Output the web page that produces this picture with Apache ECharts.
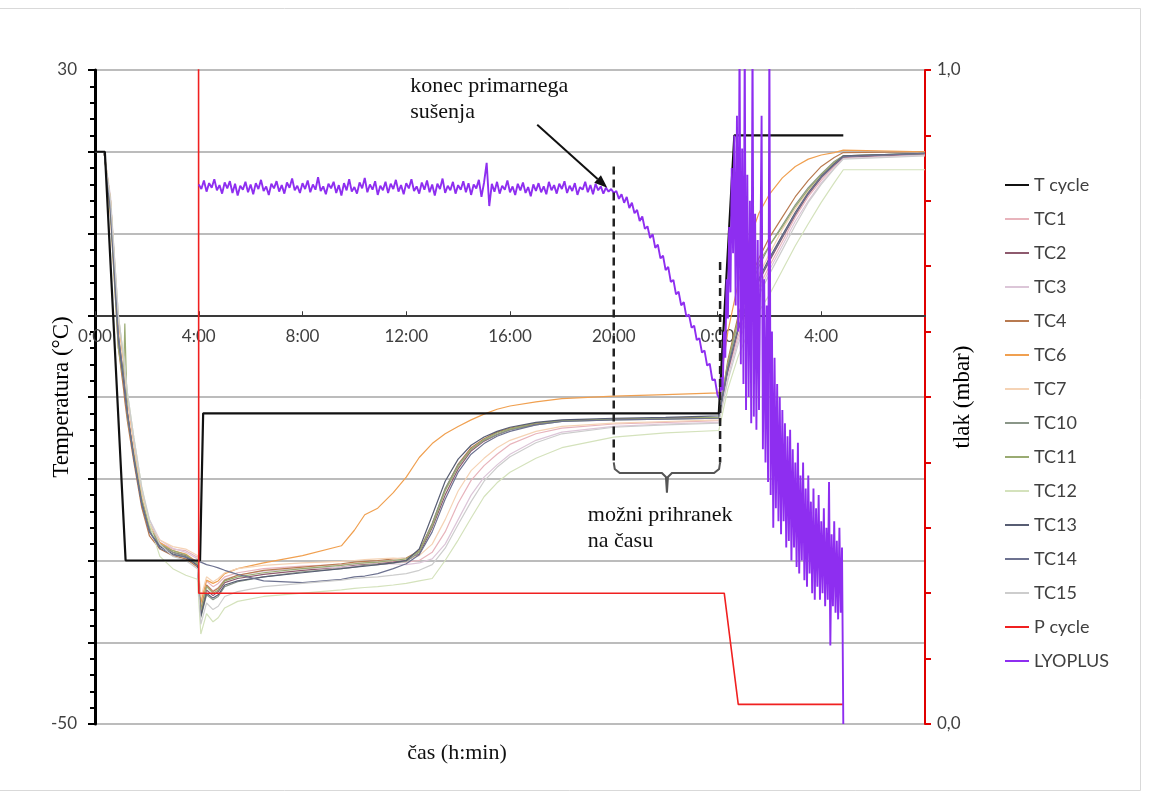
<!DOCTYPE html>
<html>
<head>
<meta charset="utf-8">
<script src="https://cdn.jsdelivr.net/npm/echarts@6/dist/echarts.min.js"></script>
<style>
  html, body { margin: 0; padding: 0; background: #fff; }
  #chart { width: 1149px; height: 796px; }
</style>
</head>
<body>
<div id="chart"></div>
<script>
// time in hours from start of cycle
var tcTime = [0, 0.35, 0.6, 0.9, 1.1, 1.15, 1.25, 1.5, 1.8, 2.1, 2.5, 3.0, 3.5, 3.95,
  4.08, 4.3, 4.55, 4.75, 5.0, 5.5, 6.5, 8, 9.5, 10.0, 10.4, 10.9, 11.5, 12,
  12.5, 13, 13.5, 14, 14.5, 15, 15.5, 16, 17, 18, 20, 22, 24.05,
  24.4, 24.8, 25.2, 25.6, 26, 26.5, 27, 27.5, 28, 28.5, 28.85, 32];

var tc1 = [20, 20, 14, -1, -6, -7.5, -10.5, -16, -22, -25.5, -27.8, -28.6, -28.8, -29.6,
  -35, -32.5, -33.2, -32.8, -32, -31.5, -31, -30.7, -30.5, -30.4, -30.3, -30.2, -30.1, -30.2,
  -30, -29, -26.5, -23, -20.2, -18.4, -17, -15.8, -14.5, -13.8, -13.3, -13.1, -12.9,
  -7, -2.5, 1, 3.5, 6, 9, 12, 14.5, 16.5, 18.2, 19.3, 19.7];
var tc2 = [20, 20, 13, -2, -7, -8.5, -11.5, -17, -22.5, -26, -28, -29, -29.4, -30.3,
  -36.5, -33.6, -34.3, -33.8, -32.7, -32.2, -31.7, -31.2, -30.8, -30.6, -30.5, -30.4, -30.2, -30,
  -29.2, -26, -22, -18.8, -16.6, -15.4, -14.6, -14, -13.3, -12.9, -12.7, -12.6, -12.5,
  -6.8, -1.8, 1.7, 4.2, 6.6, 9.5, 12.3, 14.8, 16.8, 18.4, 19.3, 19.7];
var tc3 = [20, 20, 14.5, 0, -5.5, -7, -10, -15.5, -21.5, -25, -27.5, -28.5, -29, -29.8,
  -35.5, -33, -33.7, -33.3, -32.3, -31.8, -31.3, -31, -30.8, -30.7, -30.6, -30.5, -30.4, -30.5,
  -30.3, -29.8, -28, -25, -22, -19.8, -18.3, -17, -15.3, -14.3, -13.6, -13.3, -13.1,
  -7.5, -3, 0.5, 3, 5.5, 8.5, 11.5, 14, 16.2, 18, 19.2, 19.6];
var tc4 = [20, 20, 12, -4, -9, -10.5, -13, -18, -23.5, -27, -28.6, -29.4, -29.8, -30.8,
  -36, -33, -33.8, -33.4, -32.4, -31.8, -31.2, -30.8, -30.4, -30.2, -30.1, -30, -29.8, -29.7,
  -28.8, -25.5, -21.3, -18.2, -16.2, -15.1, -14.3, -13.8, -13.2, -12.9, -12.7, -12.6, -12.5,
  -5.5, 0, 4, 7, 9.5, 12, 14.5, 16.5, 18.2, 19.3, 19.9, 20];
var tc6 = [20, 20, 14, -1, -6, -7.5, -11, -16.5, -22, -25.5, -27.8, -28.8, -29.2, -30.2,
  -35.2, -32.4, -32.8, -32.5, -31.6, -31, -30.3, -29.4, -28.2, -26.3, -24.4, -23.6, -21.7, -19.8,
  -17.4, -15.7, -14.5, -13.6, -12.8, -12.1, -11.5, -11.1, -10.6, -10.2, -9.9, -9.7, -9.5,
  -2, 4, 9, 12.5, 14.8, 16.8, 18.2, 19.1, 19.6, 19.9, 20.2, 20];
var tc7 = [20, 20, 13.5, -1.5, -6.5, -8, -11, -16.5, -22, -25.5, -27.5, -28.3, -28.6, -29.4,
  -34.5, -32, -32.6, -32.2, -31.5, -31, -30.6, -30.3, -30.1, -30, -29.9, -29.8, -29.7, -29.8,
  -29.4, -28, -25, -21.5, -19, -17.5, -16.2, -15.3, -14.2, -13.6, -13.2, -13, -12.8,
  -6, -1, 2.5, 5, 7.5, 10.5, 13, 15.2, 17, 18.6, 19.5, 19.8];
var tc10 = [20, 20, 13, -2.5, -7.5, -9, -12, -17.5, -23, -26.3, -28.2, -29, -29.5, -30.5,
  -37, -34.2, -34.8, -34.4, -33.2, -32.6, -32, -31.4, -31, -30.8, -30.6, -30.5, -30.3, -30.1,
  -29, -25.5, -21.2, -18.3, -16.4, -15.3, -14.6, -14, -13.4, -13, -12.8, -12.7, -12.6,
  -6, -0.5, 3, 6, 8.5, 11, 13.5, 15.6, 17.3, 18.8, 19.5, 19.8];
var tc11 = [20, 20, 12.5, -4, -8, -1, -12.5, -17, -22.5, -26, -28, -28.8, -29.3, -30.3,
  -36.2, -33.2, -34, -33.6, -32.5, -32, -31.5, -31, -30.6, -30.4, -30.3, -30.2, -30, -29.8,
  -28.9, -25.8, -21.5, -18.5, -16.4, -15.2, -14.4, -13.9, -13.2, -12.9, -12.7, -12.6, -12.5,
  -5.8, -0.5, 3.5, 6.5, 8.5, 10.8, 13.3, 15.4, 17.2, 18.7, 19.5, 19.8];
var tc12 = [20, 20, 14, 0, -5, -6.5, -9.5, -15, -21, -25.5, -29.5, -31, -31.8, -32.3,
  -39, -36.5, -37.5, -37, -35.8, -35, -34.4, -34, -33.6, -33.4, -33.3, -33.2, -33, -32.8,
  -32.5, -32.2, -30, -27.5, -24.8, -22.2, -20.5, -19.2, -17.5, -16.2, -14.9, -14.4, -14.1,
  -9, -5, -2, 0.5, 2.5, 5.5, 8.5, 11.2, 13.8, 16.2, 17.8, 17.8];
var tc13 = [20, 20, 13, -3, -8, -9.5, -12, -17.5, -23, -26.5, -28.3, -29.2, -29.6, -30.6,
  -36.8, -34, -34.6, -34.2, -33, -32.5, -32, -31.5, -31, -30.8, -30.7, -30.5, -30.3, -30,
  -28.6, -24.5, -20.3, -17.6, -15.9, -14.9, -14.2, -13.7, -13.1, -12.8, -12.6, -12.5, -12.3,
  -6.5, -1.5, 2, 4.5, 7, 9.8, 12.6, 15, 17, 18.5, 19.5, 19.8];
var tc14 = [20, 20, 13, -2.5, -7.5, -9, -12, -17.5, -23, -26.5, -28.5, -29.3, -29.6, -30.1,
  -30.2, -30.5, -30.7, -30.9, -31.2, -31.7, -32.5, -32.7, -32.3, -32, -31.9, -31.6, -31, -30.4,
  -29.3, -26.5, -22.5, -19.2, -17, -15.7, -14.8, -14.2, -13.4, -13, -12.8, -12.7, -12.6,
  -6.6, -1.6, 1.8, 4.3, 6.8, 9.6, 12.4, 14.9, 16.9, 18.4, 19.4, 19.8];
var tc15 = [20, 20, 14, 0, -5, -6.5, -9.5, -15, -21, -25, -28, -29.5, -30, -31,
  -37.8, -35.2, -36, -35.6, -34.4, -33.8, -33.2, -32.8, -32.4, -32.2, -32.1, -32, -31.8, -31.6,
  -31.2, -30.5, -28.5, -25.6, -22.8, -20.3, -18.6, -17.3, -15.6, -14.5, -13.7, -13.4, -13.2,
  -8, -3.5, 0, 2.5, 5, 8, 11, 13.8, 16, 17.9, 19.1, 19.5];

// set points of the cycle
var tCycleTime = [0, 0.38, 1.18, 4.05, 4.17, 24.05, 24.65, 28.85];
var tCycleVal = [20, 20, -30, -30, -12, -12, 22, 22];
var pCycleTime = [3.99, 4.0, 24.26, 24.8, 28.85];
var pCycleVal = [1.3, 0.2, 0.2, 0.03, 0.03];

// LYOPLUS pressure, sampled every 0.1 h from 4:00 (plateau + decline), then every 0.05 h
var lyoStart = 4.0;
var lyoStep = 0.1;
var lyoPlateau = [
  0.825, 0.818, 0.831, 0.814, 0.827, 0.820, 0.833, 0.816, 0.824, 0.811, 0.828,
  0.819, 0.830, 0.812, 0.826, 0.808, 0.823, 0.817, 0.829, 0.813, 0.825,
  0.810, 0.827, 0.818, 0.832, 0.815, 0.822, 0.809, 0.826, 0.819, 0.830,
  0.814, 0.824, 0.811, 0.828, 0.820, 0.834, 0.816, 0.823, 0.812, 0.827,
  0.818, 0.831, 0.813, 0.825, 0.817, 0.836, 0.815, 0.822, 0.810, 0.826,
  0.819, 0.829, 0.812, 0.824, 0.808, 0.827, 0.816, 0.833, 0.814, 0.821,
  0.811, 0.828, 0.819, 0.835, 0.813, 0.825, 0.817, 0.830, 0.809, 0.823,
  0.816, 0.829, 0.812, 0.826, 0.818, 0.832, 0.814, 0.824, 0.810, 0.827,
  0.819, 0.833, 0.815, 0.822, 0.811, 0.828, 0.817, 0.831, 0.813, 0.825,
  0.808, 0.826, 0.818, 0.834, 0.812, 0.823, 0.816, 0.829, 0.811, 0.824,
  0.817, 0.830, 0.813, 0.827, 0.809, 0.825, 0.819, 0.832, 0.806, 0.828,
  0.858, 0.792, 0.826, 0.814, 0.829, 0.811, 0.823, 0.817, 0.831, 0.813,
  0.822, 0.809, 0.826, 0.816, 0.828, 0.812, 0.821, 0.807, 0.825, 0.815,
  0.827, 0.813, 0.822, 0.810, 0.829, 0.816, 0.824, 0.811, 0.826, 0.818,
  0.830, 0.812, 0.823, 0.815, 0.827, 0.809, 0.821, 0.817, 0.829, 0.813,
  0.824, 0.810, 0.826, 0.816, 0.822, 0.811, 0.820, 0.814, 0.818, 0.812];
var lyoDecline = [
  0.815, 0.803, 0.810, 0.797, 0.806, 0.789, 0.797, 0.781, 0.786,
  0.769, 0.776, 0.757, 0.761, 0.743, 0.749, 0.728, 0.733, 0.712, 0.716,
  0.694, 0.699, 0.676, 0.679, 0.657, 0.661, 0.640, 0.645, 0.623, 0.626,
  0.606, 0.609, 0.587, 0.590, 0.568, 0.571, 0.548, 0.551, 0.526, 0.527,
  0.503];
var lyoStart2 = 24.1;
var lyoStep2 = 0.05;
var lyoRecovery = [
  0.496, 0.53, 0.51, 0.60, 0.56, 0.68, 0.62, 0.76, 0.66, 0.85,
  0.72, 0.90, 0.64, 0.93, 0.60, 1.05, 0.55, 0.88, 0.52, 1.05,
  0.48, 0.84, 0.50, 0.80, 0.46, 1.05, 0.47, 0.78, 0.45, 0.74,
  0.48, 0.70, 0.93, 0.42, 0.68, 0.40, 0.64, 0.37, 1.05, 0.35,
  0.60, 0.30, 0.56, 0.33, 0.52, 0.31, 0.50, 0.29, 0.48, 0.31,
  0.46, 0.27, 0.44, 0.28, 0.45, 0.25, 0.42, 0.27, 0.40, 0.24,
  0.43, 0.23, 0.38, 0.25, 0.40, 0.22, 0.36, 0.21, 0.38, 0.23,
  0.34, 0.20, 0.36, 0.19, 0.33, 0.21, 0.35, 0.19, 0.31, 0.20,
  0.33, 0.18, 0.30, 0.19, 0.37, 0.12, 0.29, 0.18, 0.31, 0.17,
  0.28, 0.16, 0.30, 0.17, 0.27, 0.00];

var xTicks = [0, 4, 8, 12, 16, 20, 24, 28];

var tcNames = ['TC1', 'TC2', 'TC3', 'TC4', 'TC6', 'TC7', 'TC10', 'TC11', 'TC12', 'TC13', 'TC14', 'TC15'];
var tcValues = [tc1, tc2, tc3, tc4, tc6, tc7, tc10, tc11, tc12, tc13, tc14, tc15];
var tcColors = ['#e8b4bc', '#8e5a6e', '#dcc6d8', '#b87a50', '#f0a050', '#f5d3b5',
  '#8a9688', '#9aab72', '#d4e2bc', '#575d73', '#6d7290', '#cdcdcd'];

function zip(xs, ys) {
  return xs.map(function (x, i) { return [x, ys[i]]; });
}

var lyoData = [];
lyoPlateau.concat(lyoDecline).forEach(function (v, i) {
  lyoData.push([+(lyoStart + i * lyoStep).toFixed(2), v]);
});
lyoRecovery.forEach(function (v, i) {
  lyoData.push([+(lyoStart2 + i * lyoStep2).toFixed(2), v]);
});

var serif = "'Liberation Serif', 'Times New Roman', serif";
var sans = "Lato, 'Liberation Sans', sans-serif";

var series = [{
  name: 'T cycle',
  type: 'line',
  data: zip(tCycleTime, tCycleVal),
  symbol: 'none',
  lineStyle: { color: '#111', width: 2.2 },
  itemStyle: { color: '#111' },
  z: 3
}];
tcNames.forEach(function (n, i) {
  series.push({
    name: n,
    type: 'line',
    data: zip(tcTime, tcValues[i]),
    symbol: 'none',
    lineStyle: { color: tcColors[i], width: 1.2 },
    itemStyle: { color: tcColors[i] },
    z: 2
  });
});
series.push({
  name: 'P cycle',
  type: 'line',
  yAxisIndex: 1,
  data: zip(pCycleTime, pCycleVal),
  symbol: 'none',
  lineStyle: { color: '#f02020', width: 1.6 },
  itemStyle: { color: '#f02020' },
  z: 4
});
series.push({
  name: 'LYOPLUS',
  type: 'line',
  yAxisIndex: 1,
  data: lyoData,
  symbol: 'none',
  lineStyle: { color: '#8e2ef0', width: 1.9 },
  itemStyle: { color: '#8e2ef0' },
  z: 5
});

var gridTop = 70, gridBottom = 72, plotH = 796 - gridTop - gridBottom;

var chart = echarts.init(document.getElementById('chart'), null, { renderer: 'canvas' });
chart.setOption({
  animation: false,
  backgroundColor: '#fff',
  grid: { left: 95, right: 224, top: gridTop, bottom: gridBottom, outerBoundsMode: 'none' },
  legend: {
    orient: 'vertical',
    left: 1000,
    top: 170,
    icon: 'rect',
    itemWidth: 24,
    itemHeight: 2,
    itemGap: 14,
    textStyle: { fontFamily: sans, fontSize: 18, color: '#404040', lineHeight: 20 },
    data: ['T cycle'].concat(tcNames, ['P cycle', 'LYOPLUS'])
  },
  xAxis: {
    type: 'value',
    min: 0,
    max: 32,
    interval: 4,
    // axis sits on the 0 °C line of the left axis
    offset: -plotH * 50 / 80,
    axisLine: { onZero: false, lineStyle: { color: '#3a3a3a', width: 2 } },
    axisTick: { inside: true, length: 4, lineStyle: { color: '#3a3a3a' } },
    axisLabel: {
      showMaxLabel: false,
      margin: 13,
      color: '#404040',
      fontFamily: sans,
      fontSize: 17,
      formatter: function (v) { return xTicks.indexOf(v) >= 0 ? (v % 24) + ':00' : ''; }
    },
    splitLine: { show: false }
  },
  yAxis: [{
    type: 'value',
    min: -50,
    max: 30,
    interval: 10,
    position: 'left',
    name: 'Temperatura (°C)',
    nameLocation: 'middle',
    nameGap: 22,
    nameMoveOverlap: false,
    nameTextStyle: { fontFamily: serif, fontSize: 23, color: '#000' },
    axisLine: { show: true, onZero: false, lineStyle: { color: '#000', width: 3 } },
    axisTick: { show: true, length: 7, lineStyle: { color: '#000', width: 2 } },
    minorTick: { show: true, splitNumber: 5, length: 5, lineStyle: { color: '#000', width: 2 } },
    axisLabel: {
      margin: 18,
      color: '#404040',
      fontFamily: sans,
      fontSize: 17,
      formatter: function (v) { return (v === 30 || v === -50) ? String(v) : ''; }
    },
    splitLine: { lineStyle: { color: '#a6a6a6', width: 1.5 } }
  }, {
    type: 'value',
    min: 0,
    max: 1,
    interval: 0.1,
    position: 'right',
    name: 'tlak (mbar)',
    nameLocation: 'middle',
    nameGap: 26,
    nameMoveOverlap: false,
    nameTextStyle: { fontFamily: serif, fontSize: 23, color: '#000' },
    axisLine: { show: true, onZero: false, lineStyle: { color: '#e00000', width: 2 } },
    axisTick: { show: true, length: 6, lineStyle: { color: '#e00000', width: 2 } },
    axisLabel: {
      margin: 12,
      color: '#404040',
      fontFamily: sans,
      fontSize: 17,
      formatter: function (v) {
        if (Math.abs(v) < 1e-6) return '0,0';
        if (Math.abs(v - 1) < 1e-6) return '1,0';
        return '';
      }
    },
    splitLine: { show: false }
  }],
  series: series
});

// annotations anchored to data coordinates
function px(t, T) { return chart.convertToPixel({ xAxisIndex: 0, yAxisIndex: 0 }, [t, T]); }
var d1a = px(20, 18.2), d1b = px(20, -18.0);
var d2a = px(24.1, 6.5), d2b = px(24.1, -18.0);
var yMid = px(20, -19.3)[1];
var yTip = px(20, -21.7)[1];
var xc = px(22.05, 0)[0];
var x1 = d1b[0], x2 = d2b[0], yTop = d1b[1];
var a0 = px(17.05, 23.3), a1 = px(19.75, 15.6);
var dx = a1[0] - a0[0], dy = a1[1] - a0[1], len = Math.sqrt(dx * dx + dy * dy);
var ux = dx / len, uy = dy / len;
var hb = [a1[0] - ux * 13, a1[1] - uy * 13];
var t1 = px(12.15, 29.6), t2 = px(19.0, -22.9);
var dashStyle = { stroke: '#222', lineWidth: 2.5, lineDash: [8, 5] };

chart.setOption({
  graphic: [
    {
      type: 'rect', z: 0, silent: true,
      shape: { x: -2, y: 8.5, width: 1142.5, height: 782 },
      style: { stroke: '#d9d9d9', lineWidth: 1, fill: null }
    },
    { type: 'line', z: 100, shape: { x1: d1a[0], y1: d1a[1], x2: d1b[0], y2: d1b[1] }, style: dashStyle },
    { type: 'line', z: 100, shape: { x1: d2a[0], y1: d2a[1], x2: d2b[0], y2: d2b[1] }, style: dashStyle },
    {
      type: 'polyline', z: 100,
      shape: { points: [[x1, yTop], [x1 + 1, yMid - 4], [x1 + 6, yMid], [xc - 5, yMid], [xc - 1, yMid + 4],
        [xc, yTip], [xc + 1, yMid + 4], [xc + 5, yMid], [x2 - 6, yMid], [x2 - 1, yMid - 4], [x2, yTop]] },
      style: { stroke: '#555', lineWidth: 2, fill: null }
    },
    { type: 'line', z: 100, shape: { x1: a0[0], y1: a0[1], x2: hb[0], y2: hb[1] }, style: { stroke: '#111', lineWidth: 2 } },
    {
      type: 'polygon', z: 100,
      shape: { points: [a1, [hb[0] - uy * 5, hb[1] + ux * 5], [hb[0] + uy * 5, hb[1] - ux * 5]] },
      style: { fill: '#111' }
    },
    {
      type: 'text', z: 100, x: t1[0], y: t1[1],
      style: { text: 'konec primarnega\nsušenja', font: '22px ' + serif, fill: '#111', lineHeight: 26, textVerticalAlign: 'top' }
    },
    {
      type: 'text', z: 100, x: t2[0], y: t2[1],
      style: { text: 'možni prihranek\nna času', font: '22px ' + serif, fill: '#111', lineHeight: 26, textVerticalAlign: 'top' }
    },
    {
      type: 'text', z: 100, x: 457, y: 753,
      style: { text: 'čas (h:min)', font: '22px ' + serif, fill: '#111', textAlign: 'center', textVerticalAlign: 'middle' }
    }
  ]
});
window.addEventListener('resize', function () { chart.resize(); });
</script>
</body>
</html>
